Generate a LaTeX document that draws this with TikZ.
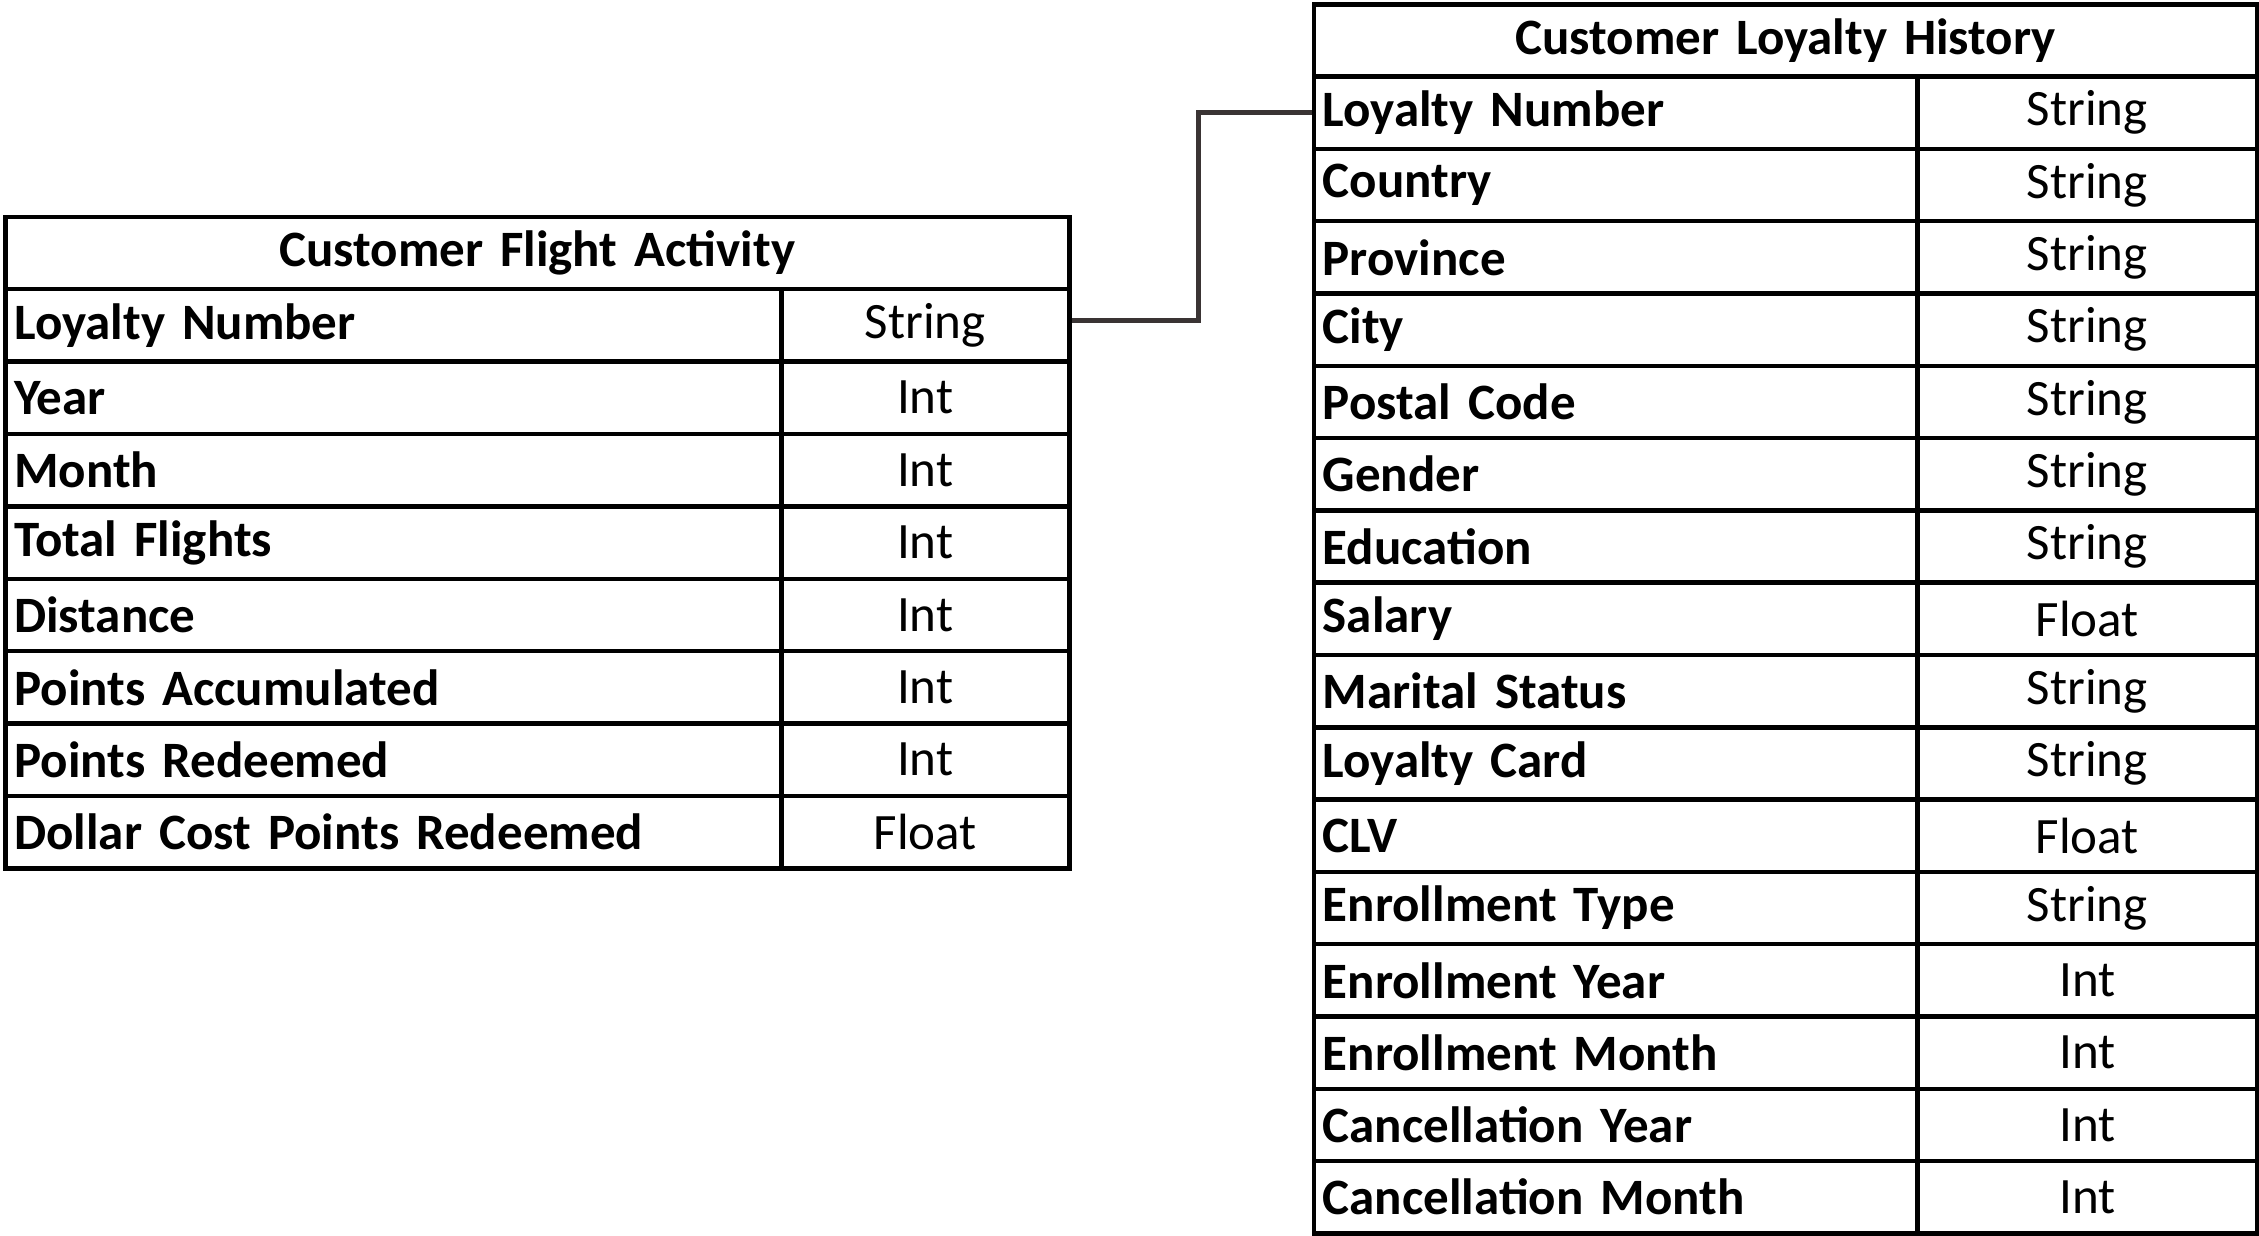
\documentclass[tikz,border=0pt]{standalone}
\usepackage{fontspec}
\setmainfont{Carlito}[WordSpace=0.6]
\definecolor{connc}{RGB}{58,52,52}
\begin{document}
\begin{tikzpicture}[x=1pt,y=-1pt,
  cell/.style={draw=black, line width=4.5pt, inner sep=0pt, anchor=north west},
  hdr/.style={cell, font=\fontsize{51}{58}\selectfont\bfseries, align=center},
  namecell/.style={cell, font=\fontsize{51}{58}\selectfont\bfseries, align=left, inner xsep=9pt},
  typecell/.style={cell, font=\fontsize{51}{58}\selectfont, align=center},
  conn/.style={draw=connc, line width=5pt}]
\useasboundingbox (0,0) rectangle (2259,1235);
% Left table
\def\Lx{3}\def\Lm{779}\def\Ly{214.5}\def\Lh{72.4}
\node[hdr, minimum width=1064pt, minimum height=\Lh pt, text width=1064pt] (L-h) at (\Lx,\Ly) {Customer Flight Activity};
\foreach \n/\t [count=\i] in {Loyalty Number/String, Year/Int, Month/Int, Total Flights/Int, Distance/Int, Points Accumulated/Int, Points Redeemed/Int, Dollar Cost Points Redeemed/Float}{
  \node[namecell, minimum width=776pt, minimum height=\Lh pt, text width=758pt] (L-n\i) at (\Lx,\Ly+\i*\Lh) {\n};
  \node[typecell, minimum width=288pt, minimum height=\Lh pt, text width=288pt] (L-t\i) at (\Lm,\Ly+\i*\Lh) {\t};
}
% Right table
\def\Rx{1311.5}\def\Rm{1915}\def\Ry{2}\def\Rh{72.3}
\node[hdr, minimum width=943.5pt, minimum height=\Rh pt, text width=943.5pt] (R-h) at (\Rx,\Ry) {Customer Loyalty History};
\foreach \n/\t [count=\i] in {Loyalty Number/String, Country/String, Province/String, City/String, Postal Code/String, Gender/String, Education/String, Salary/Float, Marital Status/String, Loyalty Card/String, CLV/Float, Enrollment Type/String, Enrollment Year/Int, Enrollment Month/Int, Cancellation Year/Int, Cancellation Month/Int}{
  \node[namecell, minimum width=603.5pt, minimum height=\Rh pt, text width=585.5pt] (R-n\i) at (\Rx,\Ry+\i*\Rh) {\n};
  \node[typecell, minimum width=340pt, minimum height=\Rh pt, text width=340pt] (R-t\i) at (\Rm,\Ry+\i*\Rh) {\t};
}
% Connector
\coordinate (bend) at (1198,0);
\coordinate (Lend) at ([yshift=5pt]L-t1.east);
\draw[conn] (Lend) -- (Lend -| bend) |- (R-n1.west);
\end{tikzpicture}
\end{document}
